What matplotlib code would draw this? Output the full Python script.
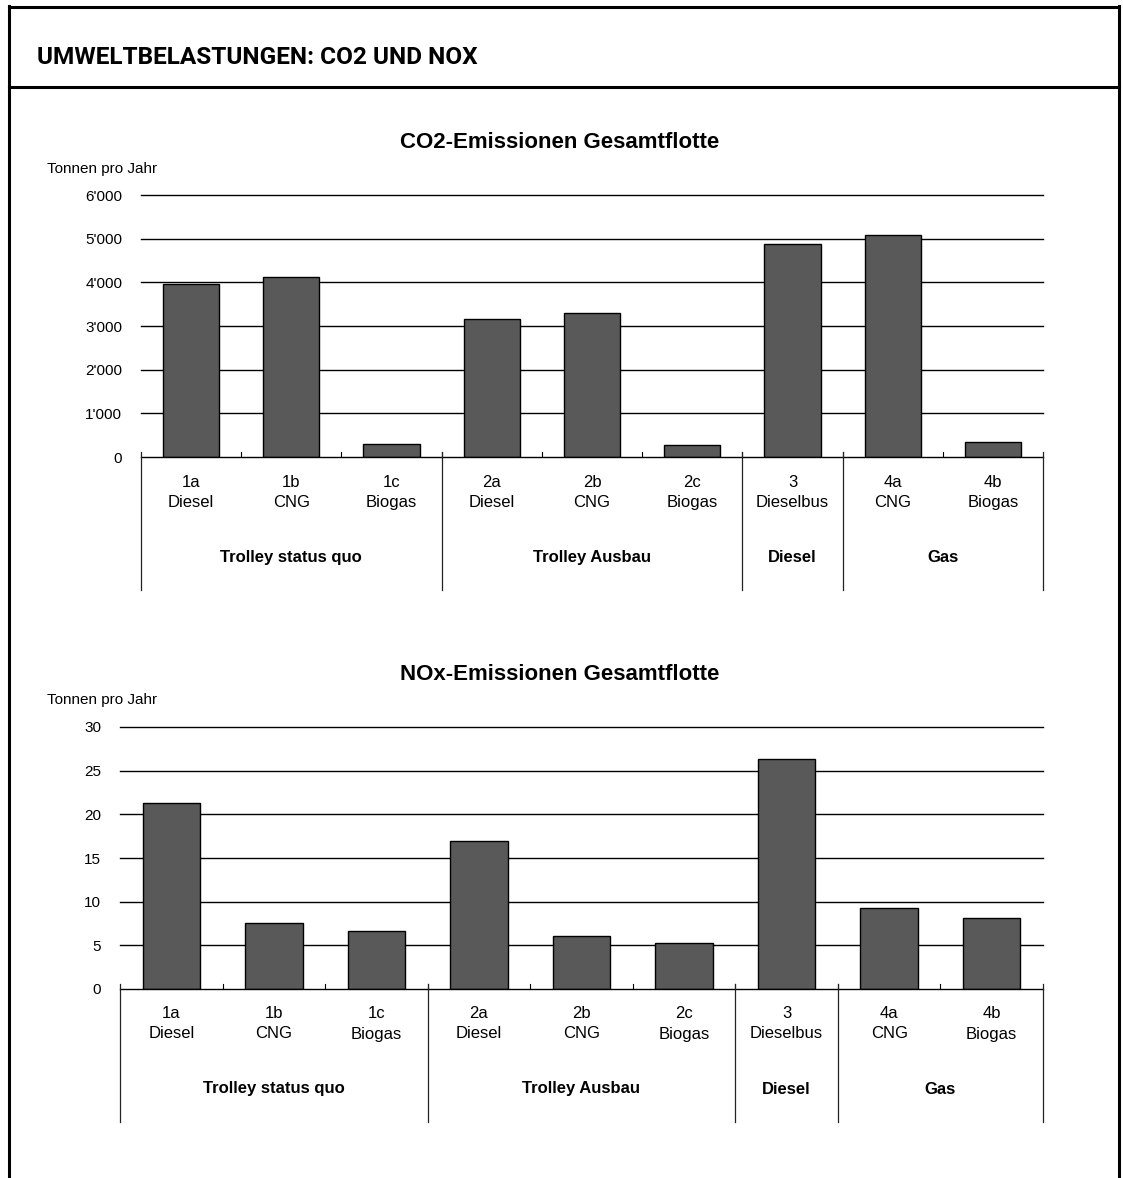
import matplotlib
matplotlib.use("Agg")
import matplotlib.pyplot as plt
from matplotlib.ticker import FuncFormatter
from matplotlib.lines import Line2D

# ---- data ----
codes = ["1a", "1b", "1c", "2a", "2b", "2c", "3", "4a", "4b"]
fuels = ["Diesel", "CNG", "Biogas", "Diesel", "CNG", "Biogas", "Dieselbus", "CNG", "Biogas"]
groups = ["Trolley status quo", "Trolley Ausbau", "Diesel", "Gas"]
group_sizes = [3, 3, 1, 2]
co2 = [3960, 4120, 300, 3160, 3300, 275, 4880, 5085, 340]
nox = [21.3, 7.6, 6.6, 16.9, 6.1, 5.3, 26.3, 9.3, 8.1]
co2_ticks = [0, 1000, 2000, 3000, 4000, 5000, 6000]
nox_ticks = [0, 5, 10, 15, 20, 25, 30]

W, H = 1123, 1178
plt.rcParams['font.family'] = ['Liberation Sans', 'DejaVu Sans']
fig = plt.figure(figsize=(W / 100, H / 100), dpi=100)


def fx(px):
    return px / W


def fy(py):
    return 1 - py / H


# frame
for (x0, y0, x1, y1) in [(9, 7, 1119, 7), (9, 87, 1119, 87), (9, 6, 9, 1178), (1119, 6, 1119, 1178)]:
    fig.add_artist(Line2D([fx(x0), fx(x1)], [fy(y0), fy(y1)], color="black", lw=2.2,
                          transform=fig.transFigure))
fig.text(fx(37), fy(57), "UMWELTBELASTUNGEN: CO2 UND NOX", fontsize=17.6, fontweight="bold",
         family=["Roboto", "DejaVu Sans"], va="center", ha="left")


def draw(left, right, top, bottom, below, values, ticks, fmt, title, title_y, unit_y):
    ax = fig.add_axes([fx(left), fy(bottom), fx(right) - fx(left), (bottom - top) / H])
    hpx = bottom - top
    x = list(range(len(values)))
    ax.bar(x, values, width=0.56, color="#595959", edgecolor="black", linewidth=1, zorder=3)
    ax.set_xlim(-0.5, len(values) - 0.5)
    ax.set_ylim(ticks[0], ticks[-1])
    ax.set_yticks(ticks)
    ax.yaxis.set_major_formatter(FuncFormatter(fmt))
    ax.tick_params(axis="y", length=0, pad=13.5, labelsize=11)
    ax.set_xticks([])
    for s in ax.spines.values():
        s.set_visible(False)
    for t in ticks[1:]:
        ax.axhline(t, color="black", lw=1, zorder=1, clip_on=False)
    ax.axhline(0, color="black", lw=1, zorder=4, clip_on=False)
    # small ticks between categories
    for b in range(len(values) - 1):
        ax.axvline(b + 0.5, ymin=0, ymax=5 / hpx, color="black", lw=0.8, zorder=4)
    # group boundaries
    bounds = [-0.5]
    acc = -0.5
    for n in group_sizes:
        acc += n
        bounds.append(acc)
    for b in bounds:
        ax.axvline(b, ymin=-below / hpx, ymax=5 / hpx, color="#222222", lw=0.9,
                   clip_on=False, zorder=4)
    # category labels
    for i in x:
        ax.annotate(codes[i], xy=(i, 0), xycoords=("data", "axes fraction"),
                    xytext=(0, -25), textcoords="offset pixels", ha="center", va="center",
                    fontsize=12, annotation_clip=False)
        ax.annotate(fuels[i], xy=(i, 0), xycoords=("data", "axes fraction"),
                    xytext=(0, -45), textcoords="offset pixels", ha="center", va="center",
                    fontsize=12, annotation_clip=False)
    for gi, g in enumerate(groups):
        c = (bounds[gi] + bounds[gi + 1]) / 2
        ax.annotate(g, xy=(c, 0), xycoords=("data", "axes fraction"),
                    xytext=(0, -100), textcoords="offset pixels", ha="center", va="center",
                    fontsize=12, fontweight="bold", annotation_clip=False)
    fig.text(fx(560), fy(title_y), title, fontsize=16, fontweight="bold",
             ha="center", va="center")
    fig.text(fx(47), fy(unit_y), "Tonnen pro Jahr", fontsize=11, ha="left", va="center")
    return ax


def co2_fmt(v, p):
    v = int(round(v))
    if v >= 1000:
        return f"{v // 1000}'{v % 1000:03d}"
    return str(v)


draw(141, 1043, 195, 457, 133, co2, co2_ticks, co2_fmt,
     "CO2-Emissionen Gesamtflotte", 143, 169)
draw(120, 1043, 727, 989, 133, nox, nox_ticks, lambda v, p: f"{int(round(v))}",
     "NOx-Emissionen Gesamtflotte", 675, 700)

fig.savefig("out.png", dpi=100)
